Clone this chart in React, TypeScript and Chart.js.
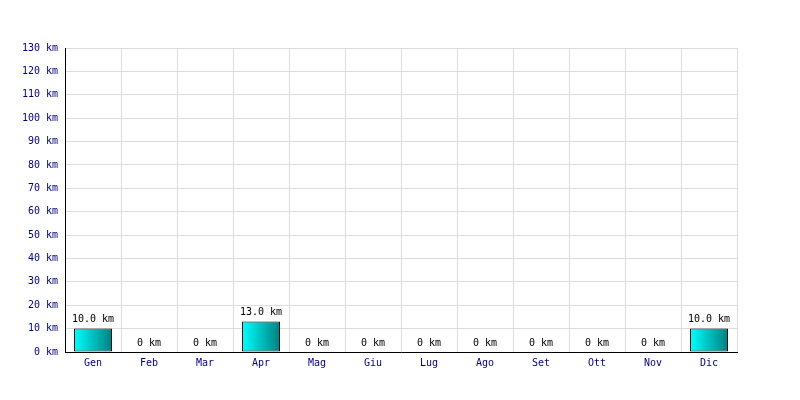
import React, { useEffect, useRef } from "react";
import { Chart, registerables } from "chart.js";

Chart.register(...registerables);

const categories = ["Gen", "Feb", "Mar", "Apr", "Mag", "Giu", "Lug", "Ago", "Set", "Ott", "Nov", "Dic"];
const distances = [10, 0, 0, 13, 0, 0, 0, 0, 0, 0, 0, 10];
const yMin = 0;
const yMax = 130;
const yStep = 10;

const FONT = "'DejaVu Sans Mono', monospace";
const BAR_FRACTION = 0.68;

const labelPlugin = {
  id: "valueLabels",
  afterDatasetsDraw(chart: any) {
    const ctx = chart.ctx;
    const meta = chart.getDatasetMeta(0);
    ctx.save();
    ctx.font = `10px ${FONT}`;
    ctx.fillStyle = "#000000";
    ctx.textAlign = "center";
    ctx.textBaseline = "bottom";
    meta.data.forEach((el: any, i: number) => {
      const v = distances[i];
      const txt = v > 0 ? `${v.toFixed(1)} km` : "0 km";
      ctx.fillText(txt, el.x, el.y - 4);
    });
    ctx.restore();
  },
};

export default function App() {
  const ref = useRef<HTMLCanvasElement | null>(null);
  useEffect(() => {
    if (!ref.current) return;
    const chart = new Chart(ref.current, {
      type: "bar",
      data: {
        labels: categories,
        datasets: [
          {
            data: distances,
            borderColor: "#000000",
            borderWidth: 1,
            borderSkipped: false,
            barPercentage: BAR_FRACTION,
            categoryPercentage: 1,
            backgroundColor: (c: any) => {
              const ch = c.chart;
              const xs = ch.scales && ch.scales.x;
              if (!ch.chartArea || !xs || c.dataIndex === undefined) return "#00c0c0";
              const center = xs.getPixelForValue(c.dataIndex);
              const w = (xs.width / categories.length) * BAR_FRACTION;
              const g = ch.ctx.createLinearGradient(center - w / 2, 0, center + w / 2, 0);
              g.addColorStop(0, "#00ffff");
              g.addColorStop(1, "#008080");
              return g;
            },
          },
        ],
      },
      options: {
        responsive: false,
        animation: false,
        devicePixelRatio: 1,
        layout: { padding: { left: 0, right: 63, top: 48, bottom: 0 } },
        plugins: { legend: { display: false }, tooltip: { enabled: false } },
        scales: {
          x: {
            grid: { color: "#dcdcdc", drawTicks: false, offset: true },
            border: { color: "#000000", width: 1 },
            ticks: { color: "#000080", font: { family: FONT, size: 10 }, padding: 5 },
            afterFit: (s: any) => {
              s.height = 48;
            },
          },
          y: {
            min: yMin,
            max: yMax,
            grid: { color: "#dcdcdc", drawTicks: false },
            border: { color: "#000000", width: 1 },
            ticks: {
              stepSize: yStep,
              color: "#000080",
              font: { family: FONT, size: 10 },
              padding: 7,
              callback: (v: any) => `${v} km`,
            },
            afterFit: (s: any) => {
              s.width = 65;
            },
          },
        },
      },
      plugins: [labelPlugin],
    });
    return () => chart.destroy();
  }, []);
  return (
    <div style={{ position: "fixed", left: 0, top: 0, width: 800, height: 400, background: "#ffffff" }}>
      <canvas ref={ref} width={800} height={400} style={{ width: 800, height: 400 }} />
    </div>
  );
}
